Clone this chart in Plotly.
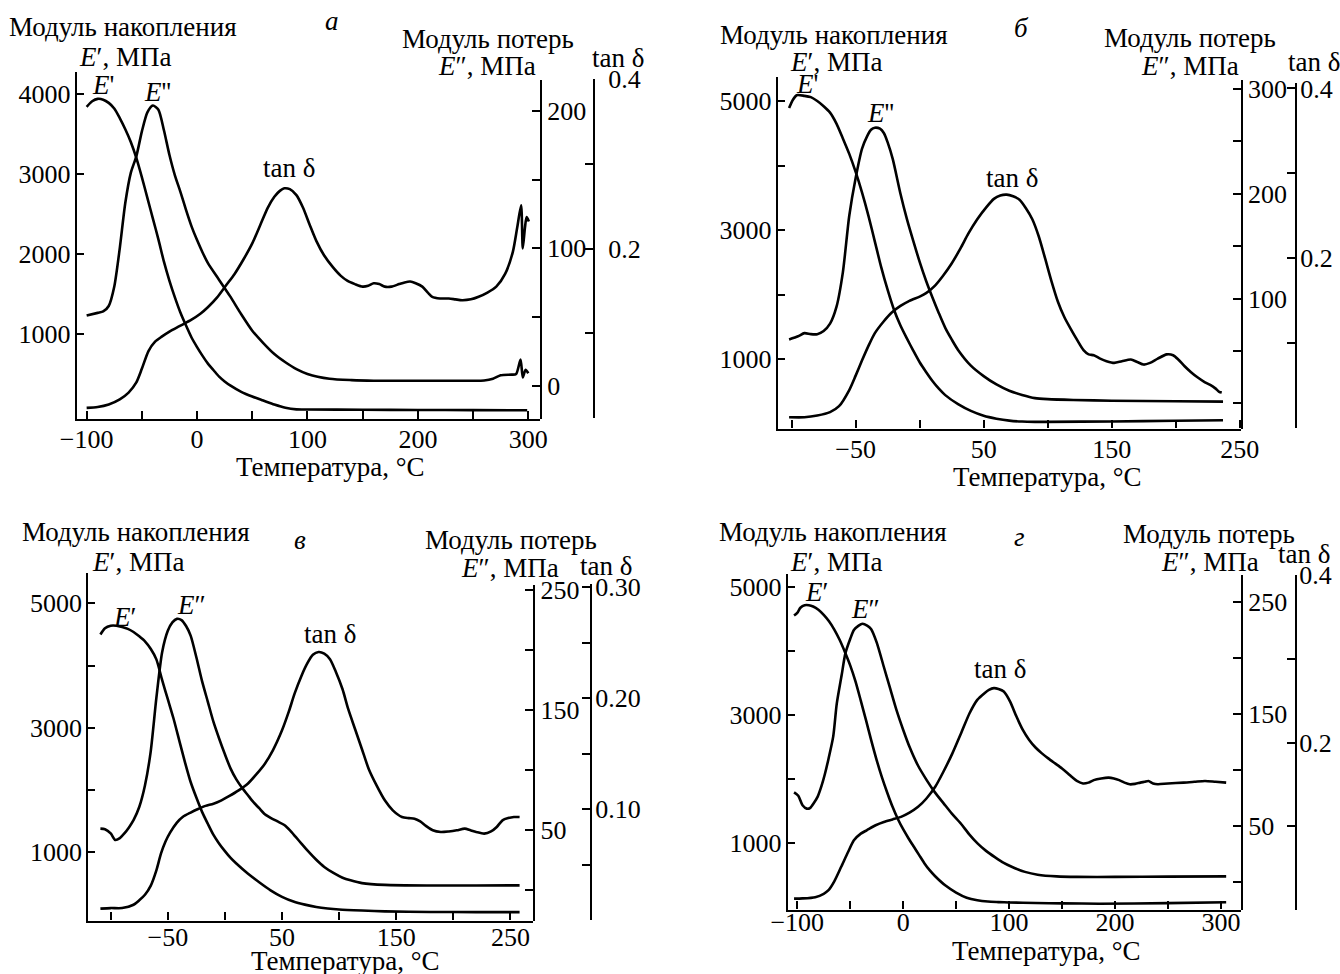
import plotly.graph_objects as go

# ---------------- DATA ----------------
# Panel а
a_T_E1 = [-100,-95,-90,-85,-80,-75,-70,-65,-60,-55,-50,-45,-40,-35,-30,-25,-20,-15,-10,-5,0,5,10,15,20,25,30,40,50,60,70,80,90,100,150,200,250,299]
a_E1 = [3840,3910,3940,3930,3890,3820,3700,3560,3400,3200,2960,2700,2440,2180,1900,1660,1450,1260,1100,950,830,720,620,540,460,400,350,270,210,160,110,70,50,48,45,42,40,38]
a_T_E2 = [-100,-90,-85,-80,-75,-70,-65,-60,-55,-50,-45,-40,-35,-30,-25,-20,-15,-10,-5,0,5,10,20,30,40,50,60,70,80,90,100,120,140,160,200,260,268,275,285,289,293,295,297.5,300]
a_E2 = [51,53,54,58,72,100,133,155,167,185,199,204,201,186,168,153,141,128,116,106,97,89,77,65,52,40,31,23,17,12,8.5,5,4,3.6,3.6,3.8,5,7.5,8,8.5,19,6,11.5,9]
a_T_tan = [-100,-90,-80,-70,-62,-55,-50,-44,-38,-32,-25,-18,-12,-5,3,10,18,26,34,42,50,58,64,70,75,79,84,90,96,102,108,115,123,130,136,143,150,155,160,165,170,176,183,188,193,198,204,209,213,220,228,234,240,248,255,263,271,279,286,290,293.5,295,297,298.5,300.5]
a_tan = [0.012,0.013,0.016,0.022,0.030,0.042,0.058,0.079,0.090,0.096,0.102,0.107,0.111,0.116,0.123,0.131,0.142,0.156,0.170,0.187,0.206,0.230,0.248,0.261,0.268,0.271,0.270,0.263,0.248,0.228,0.209,0.192,0.178,0.168,0.162,0.158,0.155,0.156,0.159,0.158,0.155,0.155,0.158,0.160,0.161,0.159,0.155,0.148,0.143,0.141,0.141,0.140,0.139,0.140,0.143,0.148,0.155,0.170,0.196,0.225,0.251,0.200,0.225,0.237,0.232]

# Panel б
b_T_E1 = [-102,-99,-96,-90,-85,-80,-75,-70,-65,-60,-55,-50,-45,-40,-35,-30,-25,-20,-15,-10,-5,0,5,10,15,20,30,40,50,60,70,80,90,100,150,200,237]
b_E1 = [4890,5020,5090,5080,5060,5000,4920,4820,4650,4420,4180,3900,3580,3220,2820,2420,2070,1760,1520,1320,1130,950,800,660,540,440,300,195,120,75,45,30,25,25,32,42,50]
b_T_E2 = [-102,-95,-90,-85,-80,-75,-70,-65,-60,-55,-50,-45,-41,-38,-35,-31,-28,-25,-21,-15,-10,-5,0,5,10,15,20,25,30,40,50,60,70,80,90,100,120,150,200,237]
b_E2 = [61,64,67,66,66,69,76,92,125,179,215,243,255,261,263,262,258,249,233,200,176,155,135,117,101,86,72,61,51,36,26,18,12,8,5,4,3.2,2.5,2,1.6]
b_T_tan = [-102,-90,-80,-70,-63,-55,-50,-45,-40,-35,-28,-22,-15,-8,0,5,12,18,25,32,38,45,52,58,63,68,73,78,83,88,93,98,103,108,113,118,123,128,132,136,141,146,152,158,165,170,175,180,186,193,198,202,207,212,217,222,227,231,234,236]
b_tan = [0.013,0.013,0.015,0.019,0.026,0.045,0.062,0.080,0.097,0.112,0.126,0.136,0.144,0.150,0.155,0.159,0.168,0.179,0.194,0.212,0.229,0.246,0.260,0.270,0.274,0.275,0.273,0.269,0.259,0.246,0.226,0.200,0.173,0.149,0.131,0.117,0.104,0.092,0.087,0.086,0.082,0.079,0.077,0.079,0.081,0.078,0.075,0.077,0.082,0.087,0.086,0.081,0.073,0.066,0.060,0.055,0.051,0.047,0.043,0.042]

# Panel в
c_T_E1 = [-109,-105,-100,-95,-90,-85,-80,-75,-70,-65,-60,-55,-50,-45,-40,-35,-30,-25,-20,-15,-10,-5,0,5,10,20,30,40,50,60,70,80,90,100,120,140,180,220,258]
c_E1 = [4500,4600,4640,4640,4620,4590,4540,4470,4390,4270,4100,3770,3460,3150,2800,2450,2130,1880,1650,1460,1280,1140,1020,910,820,660,520,390,285,210,160,122,98,82,65,52,42,40,40]
c_T_E2 = [-109,-105,-100,-96,-92,-88,-84,-80,-75,-70,-65,-60,-55,-50,-46,-42,-38,-34,-30,-25,-20,-15,-10,-5,0,5,10,15,20,25,30,35,40,46,52,57,62,67,72,80,87,95,103,110,120,140,180,220,258]
c_E2 = [51,50.5,47,41.5,43,47,52,58,69,87,115,160,198,216,223,226,225,220,212,194,174,157,140,126,113,101,92,85,79,73,68,63,60,57,54,49.5,44,38.5,33,25,19,14,10,7.8,5.5,4,3.5,3.5,3.6]
c_T_tan = [-109,-100,-90,-80,-75,-70,-65,-60,-56,-52,-48,-42,-37,-30,-24,-17,-10,-3,4,12,20,28,35,42,50,56,61,67,72,77,82,87,92,97,103,108,114,120,126,133,140,147,155,161,166,171,176,182,189,196,203,210,215,220,227,233,238,243,248,253,258]
c_tan = [0.0105,0.011,0.011,0.014,0.018,0.023,0.031,0.045,0.060,0.071,0.079,0.088,0.093,0.097,0.100,0.103,0.105,0.108,0.112,0.117,0.123,0.132,0.141,0.153,0.171,0.188,0.204,0.220,0.231,0.239,0.2415,0.240,0.235,0.224,0.208,0.190,0.172,0.154,0.136,0.121,0.108,0.099,0.093,0.092,0.0915,0.089,0.085,0.081,0.0795,0.080,0.081,0.0825,0.081,0.0795,0.078,0.080,0.084,0.090,0.092,0.093,0.093]

# Panel г
d_T_E1 = [-103,-100,-97,-93,-89,-85,-80,-75,-70,-65,-60,-55,-50,-45,-40,-35,-30,-25,-20,-15,-10,-5,0,5,10,15,20,25,30,40,50,60,70,80,90,100,125,150,185,250,305]
d_E1 = [4560,4600,4680,4720,4720,4700,4650,4570,4470,4340,4180,3990,3780,3530,3230,2920,2600,2300,2030,1790,1570,1380,1220,1080,950,820,690,580,490,340,230,150,110,90,82,76,68,62,57,65,80]
d_T_E2 = [-103,-99,-95,-91,-88,-84,-80.8,-77,-74,-70.7,-66,-62.7,-58,-54.6,-50,-46.5,-42,-38.4,-34,-30.3,-25,-18.2,-12,-6.1,0,6.1,14,22.2,30,38.4,46,54.6,62,70.7,78,86.9,95,103,115,127,145,164,200,250,305]
d_E2 = [80,77,68.5,65.5,66,71,76,86,96,109,130,159,185,204,217,225,229,230.6,229,226,214,192,172,153,136,120.5,104,91,80,70,61,52,43,34,28,22,17,13.4,9,6.5,5,4.5,4.5,4.8,5]
d_T_tan = [-103,-95,-83,-75,-70.7,-65,-58.6,-52,-46.5,-40,-34.4,-26,-18.2,-10,-2,6,14.1,22,30.3,38,46.5,55,62.7,70,76.8,81,85.7,90,95,101,107,113,119,125,131,137,143.5,150,155.6,160,164,169.8,175,180,187,194,199,204,209,214,219,224,228,231.6,236,240.5,250,264.8,275,285,295,305]
d_tan = [0.0132,0.0135,0.015,0.019,0.023,0.034,0.051,0.069,0.083,0.091,0.095,0.101,0.105,0.108,0.111,0.116,0.123,0.133,0.147,0.165,0.187,0.212,0.235,0.251,0.259,0.263,0.265,0.264,0.261,0.249,0.231,0.215,0.203,0.194,0.187,0.181,0.175,0.169,0.163,0.158,0.154,0.151,0.152,0.155,0.157,0.158,0.157,0.155,0.152,0.150,0.1505,0.152,0.153,0.154,0.151,0.150,0.151,0.152,0.153,0.154,0.153,0.152]

# Tick definitions
x_ticks_wide = [-100,-50,0,50,100,150,200,250,300]
x_text_wide = ['−100','','0','','100','','200','','300']
x_ticks_narrow = [-100,-50,0,50,100,150,200,250]
x_text_narrow = ['','−50','','50','','150','','250']

# ---------------- LAYOUT ----------------
W, H = 1340, 974
FONT = 'Liberation Serif'
FS = 26     # tick labels
FA = 27     # annotation texts

def px(v): return v / W
def py(v): return 1 - v / H

panels = [
    dict(data=(a_T_E1, a_E1, a_T_E2, a_E2, a_T_tan, a_tan),
         xl=76.7, xr=540, xrange=[-109, 310.6], ybot=419, xstand=-4,
         ltop=72, lrange=[-71, 4277], lticks=[1000,2000,3000,4000], ltext=['1000','2000','3000','4000'],
         e2top=80, e2range=[-24.3, 222.6], e2ticks=[0,50,100,150,200], e2text=['0','','100','','200'],
         tanx=594, tantop=79, tanbot=418, tanrange=[0, 0.4], tticks=[0,0.1,0.2,0.3,0.4], ttext=['','','0.2','','0.4'], tstand=8,
         xticks=x_ticks_wide, xtext=x_text_wide),
    dict(data=(b_T_E1, b_E1, b_T_E2, b_E2, b_T_tan, b_tan),
         xl=777.7, xr=1240.7, xrange=[-110.9, 250.8], ybot=428.5, xstand=-4,
         ltop=76.7, lrange=[-77.5, 5377], lticks=[1000,2000,3000,4000,5000], ltext=['1000','','3000','','5000'],
         e2top=80, e2range=[-24, 308.5], e2ticks=[0,50,100,150,200,250,300], e2text=['','','100','','200','','300'],
         tanx=1296, tantop=83.3, tanbot=428.3, tanrange=[0, 0.406], tticks=[0,0.1,0.2,0.3,0.4], ttext=['','','0.2','','0.4'], tstand=-2,
         xticks=x_ticks_narrow, xtext=x_text_narrow),
    dict(data=(c_T_E1, c_E1, c_T_E2, c_E2, c_T_tan, c_tan),
         xl=88.3, xr=533.3, xrange=[-119.6, 270], ybot=920.5, xstand=-8,
         ltop=573.3, lrange=[-95, 5483], lticks=[1000,2000,3000,4000,5000], ltext=['1000','','3000','','5000'],
         e2top=585.3, e2range=[-25.7, 254], e2ticks=[0,50,100,150,200,250], e2text=['','50','','150','','250'],
         tanx=591, tantop=583.7, tanbot=920.3, tanrange=[0, 0.303], tticks=[0,0.05,0.1,0.15,0.2,0.25,0.3], ttext=['','','0.10','','0.20','','0.30'], tstand=-2,
         xticks=x_ticks_narrow, xtext=x_text_narrow),
    dict(data=(d_T_E1, d_E1, d_T_E2, d_E2, d_T_tan, d_tan),
         xl=787.7, xr=1241, xrange=[-109, 319], ybot=909.5, xstand=-12,
         ltop=574.3, lrange=[-34, 5203], lticks=[1000,2000,3000,4000,5000], ltext=['1000','','3000','','5000'],
         e2top=575.3, e2range=[-24.6, 273.9], e2ticks=[0,50,100,150,200,250], e2text=['','50','','150','','250'],
         tanx=1296, tantop=575.3, tanbot=909.7, tanrange=[0, 0.4], tticks=[0,0.1,0.2,0.3,0.4], ttext=['','','0.2','','0.4'], tstand=-3,
         xticks=x_ticks_wide, xtext=x_text_wide),
]

fig = go.Figure()
layout = dict(template='none', width=W, height=H, autosize=False,
              margin=dict(l=0, r=0, t=0, b=0, pad=0, autoexpand=False),
              paper_bgcolor='white', plot_bgcolor='rgba(0,0,0,0)', showlegend=False,
              font=dict(family=FONT, size=FS, color='black'))

def aname(letter, i): return f'{letter}axis' if i == 1 else f'{letter}axis{i}'
def aref(letter, i): return letter if i == 1 else f'{letter}{i}'

common = dict(showline=True, linecolor='black', linewidth=2.2, showgrid=False, zeroline=False,
              automargin=False, ticks='inside', tickcolor='black', tickwidth=2, ticklen=8, tickmode='array',
              tickfont=dict(family=FONT, size=FS, color='black'), fixedrange=True)

LINE = dict(color='black', width=2.6, shape='spline', smoothing=0.7)

for p, P in enumerate(panels):
    xi = p + 1
    yl, ye, yt = 3*p + 1, 3*p + 2, 3*p + 3
    layout[aname('x', xi)] = dict(common, domain=[px(P['xl']), px(P['xr'])], range=P['xrange'],
                                  anchor=aref('y', yl), tickvals=P['xticks'], ticktext=P['xtext'],
                                  ticklabelstandoff=P['xstand'])
    layout[aname('y', yl)] = dict(common, domain=[py(P['ybot']), py(P['ltop'])], range=P['lrange'],
                                  anchor=aref('x', xi), side='left', tickvals=P['lticks'], ticktext=P['ltext'],
                                  ticklen=7, ticklabelstandoff=-1)
    layout[aname('y', ye)] = dict(common, domain=[py(P['ybot']), py(P['e2top'])], range=P['e2range'],
                                  anchor=aref('x', xi), side='right', tickvals=P['e2ticks'], ticktext=P['e2text'],
                                  ticklabelstandoff=0)
    layout[aname('y', yt)] = dict(common, domain=[py(P['tanbot']), py(P['tantop'])], range=P['tanrange'],
                                  anchor='free', position=px(P['tanx']), side='right',
                                  tickvals=P['tticks'], ticktext=P['ttext'], ticklabelstandoff=P['tstand'])
    T1, E1, T2, E2, Tt, tt = P['data']
    fig.add_trace(go.Scatter(x=T1, y=E1, mode='lines', line=LINE, xaxis=aref('x', xi), yaxis=aref('y', yl), hoverinfo='skip'))
    fig.add_trace(go.Scatter(x=T2, y=E2, mode='lines', line=LINE, xaxis=aref('x', xi), yaxis=aref('y', ye), hoverinfo='skip'))
    fig.add_trace(go.Scatter(x=Tt, y=tt, mode='lines', line=LINE, xaxis=aref('x', xi), yaxis=aref('y', yt), hoverinfo='skip'))

def ann(text, x, y, xanchor='center', size=FA):
    return dict(text=text, x=px(x), y=py(y), xref='paper', yref='paper', showarrow=False,
                xanchor=xanchor, yanchor='middle', font=dict(family=FONT, size=size, color='black'))

annotations = [
    # panel а
    ann('Модуль накопления', 123, 27), ann('<i>E</i>′, МПа', 77, 57, 'left'),
    ann('<i>а</i>', 332, 21), ann('Модуль потерь', 576, 39, 'right'),
    ann('<i>E</i>″, МПа', 538, 66, 'right'), ann('tan δ', 590, 58, 'left'),
    ann('Температура, °C', 330, 467),
    ann("<i>E</i>'", 103, 85), ann("<i>E</i>''", 157, 92), ann('tan δ', 289, 168),
    # panel б
    ann('Модуль накопления', 834, 35), ann('<i>E</i>′, МПа', 788, 62, 'left'),
    ann('<i>б</i>', 1021, 28), ann('Модуль потерь', 1278, 38, 'right'),
    ann('<i>E</i>″, МПа', 1241, 66, 'right'), ann('tan δ', 1286, 62, 'left'),
    ann('Температура, °C', 1047, 477),
    ann("<i>E</i>'", 807, 84), ann("<i>E</i>''", 880, 113), ann('tan δ', 1012, 178),
    # panel в
    ann('Модуль накопления', 136, 532), ann('<i>E</i>′, МПа', 90, 562, 'left'),
    ann('<i>в</i>', 300, 540), ann('Модуль потерь', 599, 540, 'right'),
    ann('<i>E</i>″, МПа', 561, 568, 'right'), ann('tan δ', 578, 566, 'left'),
    ann('Температура, °C', 345, 961),
    ann('<i>E</i>′', 124, 617), ann('<i>E</i>″', 191, 605), ann('tan δ', 330, 634),
    # panel г
    ann('Модуль накопления', 833, 532), ann('<i>E</i>′, МПа', 788, 562, 'left'),
    ann('<i>г</i>', 1019, 537), ann('Модуль потерь', 1297, 534, 'right'),
    ann('<i>E</i>″, МПа', 1261, 562, 'right'), ann('tan δ', 1276, 554, 'left'),
    ann('Температура, °C', 1046, 951),
    ann('<i>E</i>′', 816, 592), ann('<i>E</i>″', 865, 609), ann('tan δ', 1000, 669),
]
layout['annotations'] = annotations
fig.update_layout(**layout)
fig.write_html('out.html')
